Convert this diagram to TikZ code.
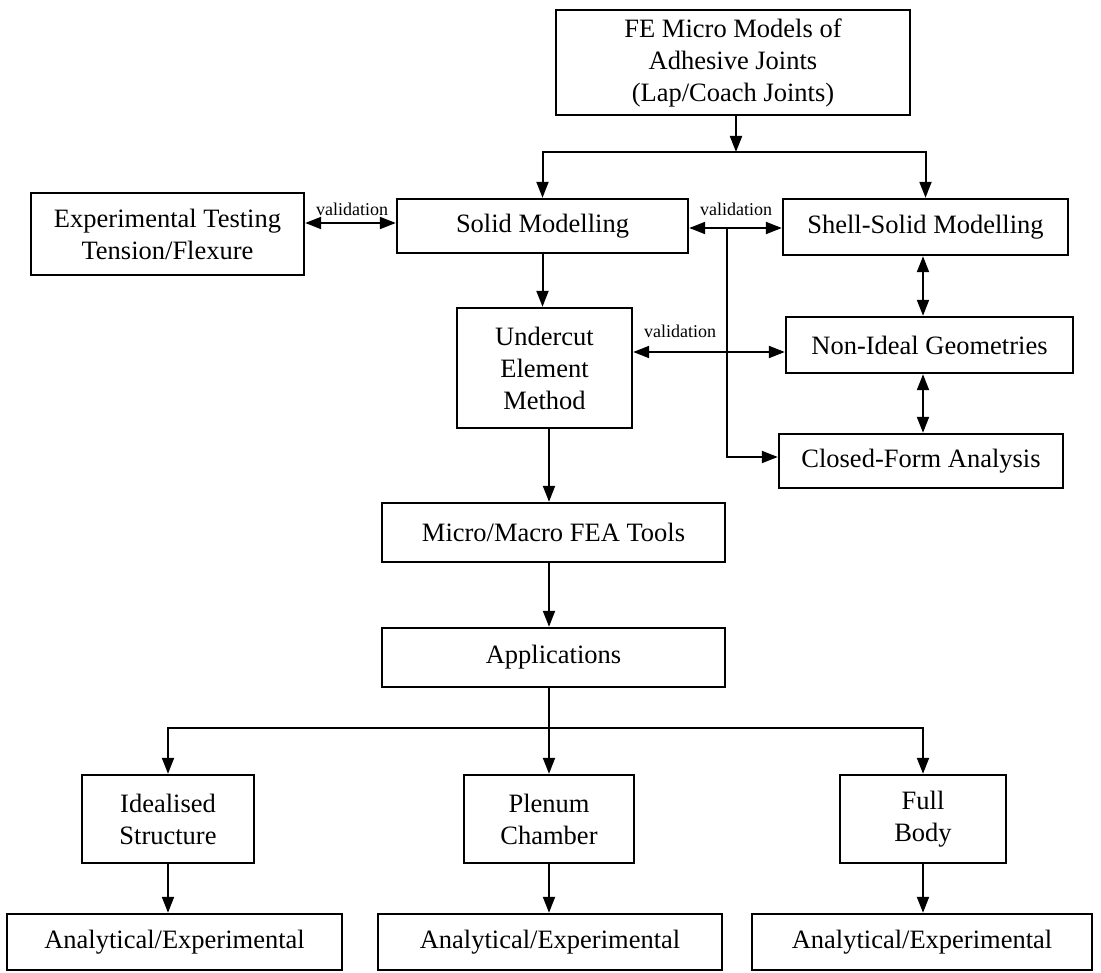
\documentclass[tikz,border=0pt]{standalone}
\usepackage{fontspec}
\setmainfont{Liberation Serif}
\usetikzlibrary{arrows.meta}
\begin{document}
\begin{tikzpicture}[x=1pt,y=-1pt,
  box/.style={draw, line width=2.4pt, inner sep=0pt, align=center, font=\fontsize{26.5}{32}\selectfont},
  con/.style={line width=2pt, -{Triangle[length=16pt,width=12pt]}},
  dcon/.style={line width=2pt, {Triangle[length=16pt,width=12pt]}-{Triangle[length=16pt,width=12pt]}},
  lbl/.style={font=\fontsize{18}{20}\selectfont, inner sep=0pt}]
\useasboundingbox[fill=white] (0,0) rectangle (1101,973);

% nodes
\node[box, minimum width=354pt, minimum height=105pt] (top) at (733,62.5) {FE Micro Models of\\Adhesive Joints\\(Lap/Coach Joints)};
\node[box, minimum width=273pt, minimum height=82pt] (exp) at (167.5,234) {Experimental Testing\\Tension/Flexure};
\node[box, minimum width=291pt, minimum height=54pt] (solid) at (542.5,226) {Solid Modelling};
\node[box, minimum width=285pt, minimum height=56pt] (shell) at (925.5,227) {Shell-Solid Modelling};
\node[box, minimum width=175pt, minimum height=120pt] (under) at (544.5,368) {Undercut\\Element\\Method};
\node[box, minimum width=287pt, minimum height=56pt] (nonideal) at (929.5,345) {Non-Ideal Geometries};
\node[box, minimum width=284pt, minimum height=54pt] (closed) at (921,461) {Closed-Form Analysis};
\node[box, minimum width=343pt, minimum height=59pt] (micro) at (553.5,532.5) {Micro/Macro FEA Tools};
\node[box, minimum width=343pt, minimum height=59pt] (apps) at (553.5,657.5) {Applications};
\node[box, minimum width=172pt, minimum height=88pt] (ideal) at (168,819) {Idealised\\Structure};
\node[box, minimum width=170pt, minimum height=88pt] (plenum) at (549,819) {Plenum\\Chamber};
\node[box, minimum width=166pt, minimum height=88pt] (full) at (923,819) {Full\\Body};
\node[box, minimum width=335pt, minimum height=56pt] (an1) at (174.5,942) {Analytical/Experimental};
\node[box, minimum width=344pt, minimum height=56pt] (an2) at (550,942) {Analytical/Experimental};
\node[box, minimum width=340pt, minimum height=56pt] (an3) at (922,942) {Analytical/Experimental};

% labels
\node[lbl] (lab1) at (352,209) {validation};
\node[lbl] (lab2) at (736,209) {validation};
\node[lbl] (lab3) at (680,331) {validation};

% helper coordinates
\coordinate (split) at (736,152);
\coordinate (v1) at (0,223);
\coordinate (v2) at (0,228);
\coordinate (v3) at (0,352);
\coordinate (v4) at (0,457);
\coordinate (br) at (727,228);
\coordinate (vx) at (923,0);
\coordinate (ax) at (549,0);
\coordinate (bar2) at (549,728);

% top split
\draw[con] (top.south -| split) -- (split);
\draw[con] (split) -| (solid.north);
\draw[con] (split) -| (shell.north);

% validations
\draw[dcon] (exp.east |- v1) -- (solid.west |- v1);
\draw[dcon] (solid.east |- v2) -- (shell.west |- v2);
\draw[dcon] (under.east |- v3) -- (nonideal.west |- v3);
\draw[con] (br) |- (closed.west |- v4);

% right column
\draw[dcon] (shell.south -| vx) -- (nonideal.north -| vx);
\draw[dcon] (nonideal.south -| vx) -- (closed.north -| vx);

% main spine
\draw[con] (solid.south) -- (solid.south |- under.north);
\draw[con] (under.south -| ax) -- (micro.north -| ax);
\draw[con] (micro.south -| ax) -- (apps.north -| ax);
\draw[con] (apps.south -| ax) -- (plenum.north);
\draw[con] (bar2) -| (ideal.north);
\draw[con] (bar2) -| (full.north);

% to analytical boxes
\draw[con] (ideal.south) -- (ideal.south |- an1.north);
\draw[con] (plenum.south) -- (plenum.south |- an2.north);
\draw[con] (full.south) -- (full.south |- an3.north);
\end{tikzpicture}
\end{document}
